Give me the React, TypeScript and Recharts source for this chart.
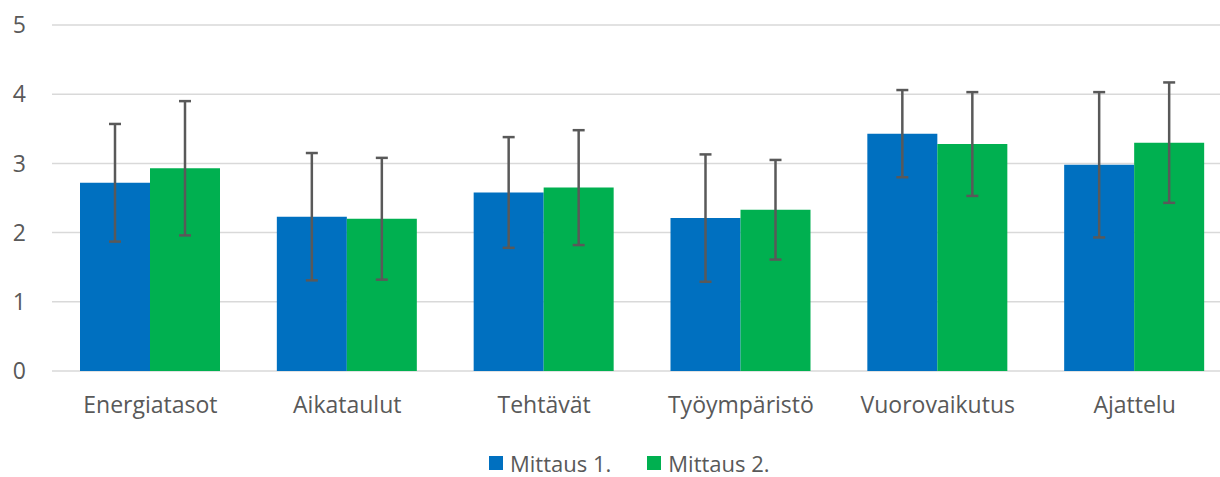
import React from "react";
import { BarChart, Bar, XAxis, YAxis, CartesianGrid, ErrorBar } from "recharts";

const categories = ["Energiatasot", "Aikataulut", "Tehtävät", "Työympäristö", "Vuorovaikutus", "Ajattelu"];
const mittaus1 = [2.72, 2.23, 2.58, 2.21, 3.43, 2.98];
const mittaus2 = [2.93, 2.2, 2.65, 2.33, 3.28, 3.3];
const virhe1 = [0.85, 0.92, 0.8, 0.92, 0.63, 1.05];
const virhe2 = [0.97, 0.88, 0.83, 0.72, 0.75, 0.87];
const yTicks = [0, 1, 2, 3, 4, 5];

const seriesNames = ["Mittaus 1.", "Mittaus 2."];
const BLUE = "#0070C0";
const GREEN = "#00B050";
const TEXT = "#595959";
const FONT = "'Open Sans', sans-serif";

const data = categories.map((name, i) => ({
  name,
  m1: mittaus1[i],
  m2: mittaus2[i],
  e1: virhe1[i],
  e2: virhe2[i],
}));

export default function App() {
  return (
    <div
      style={{
        position: "absolute",
        left: 0,
        top: 0,
        width: 1220,
        height: 477,
        overflow: "hidden",
        background: "#fff",
        fontFamily: FONT,
      }}
    >
      <BarChart
        width={1240}
        height={477}
        data={data}
        margin={{ top: 25, right: 7, left: 0, bottom: 0 }}
        barSize={70}
        barGap={0}
      >
        <CartesianGrid vertical={false} stroke="#d9d9d9" strokeWidth={1.5} />
        <XAxis
          dataKey="name"
          height={106}
          axisLine={false}
          tickLine={false}
          tickSize={0}
          tickMargin={26}
          interval={0}
          tick={{ fill: TEXT, fontSize: 23, fontFamily: FONT }}
        />
        <YAxis
          width={52}
          domain={[0, 5]}
          ticks={yTicks}
          axisLine={false}
          tickLine={false}
          tickSize={0}
          tickMargin={26}
          tick={{ fill: TEXT, fontSize: 23, fontFamily: FONT }}
        />
        <Bar dataKey="m1" name={seriesNames[0]} fill={BLUE} isAnimationActive={false}>
          <ErrorBar dataKey="e1" width={6} stroke={TEXT} strokeWidth={2.5} />
        </Bar>
        <Bar dataKey="m2" name={seriesNames[1]} fill={GREEN} isAnimationActive={false}>
          <ErrorBar dataKey="e2" width={6} stroke={TEXT} strokeWidth={2.5} />
        </Bar>
      </BarChart>

      {/* legend */}
      <div
        style={{
          position: "absolute",
          left: 489,
          top: 451,
          height: 24,
          lineHeight: "24px",
          display: "flex",
          alignItems: "center",
          fontSize: 22,
          color: TEXT,
          whiteSpace: "nowrap",
        }}
      >
        {seriesNames.map((s, i) => (
          <div key={s} style={{ display: "flex", alignItems: "center", marginRight: i === 0 ? 36 : 0 }}>
            <span
              style={{
                display: "inline-block",
                width: 14,
                height: 14,
                background: i === 0 ? BLUE : GREEN,
                marginRight: 7,
              }}
            />
            <span>{s}</span>
          </div>
        ))}
      </div>
    </div>
  );
}
